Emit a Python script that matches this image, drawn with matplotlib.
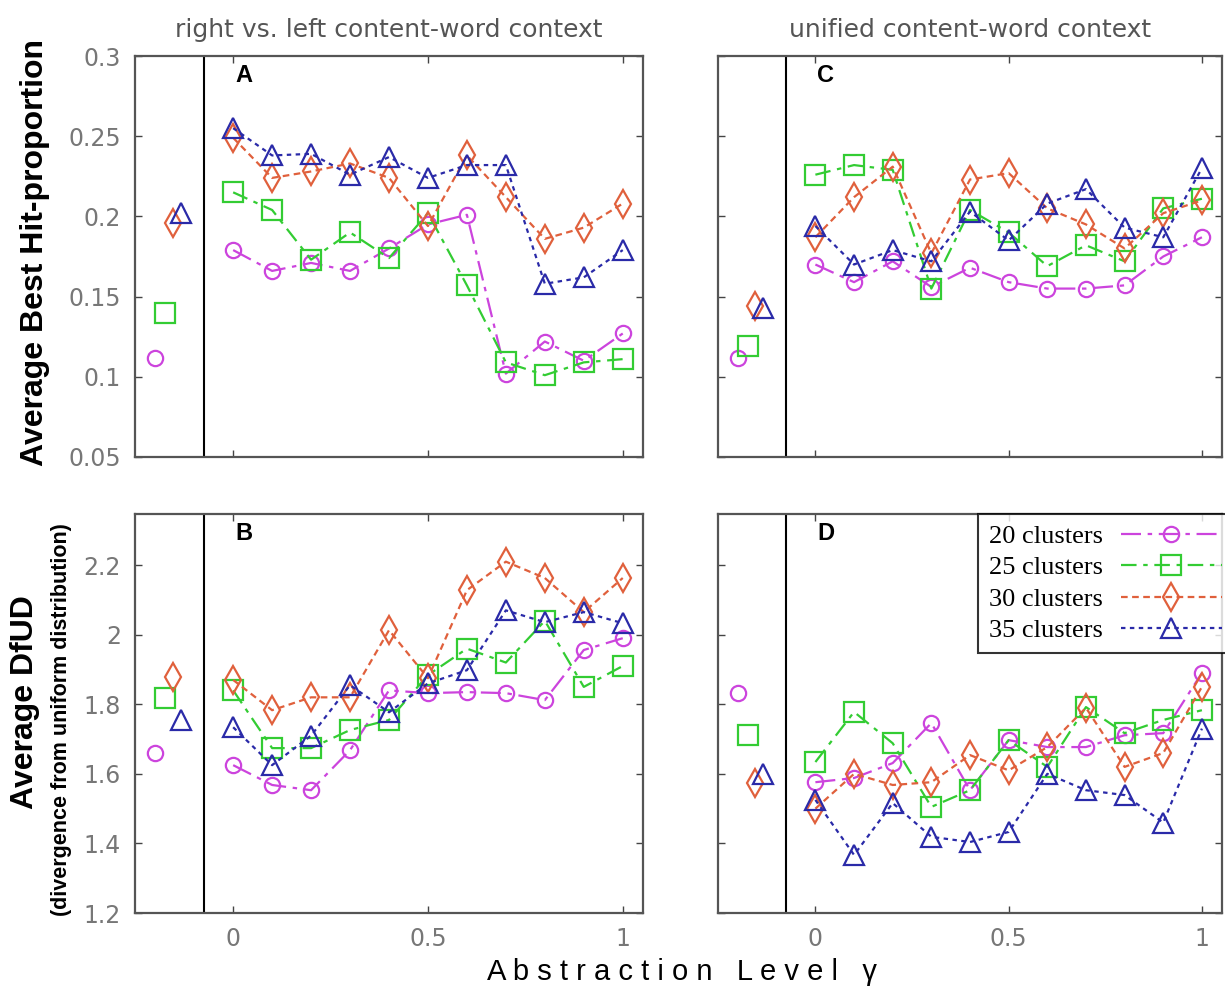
import matplotlib.pyplot as plt

gamma = [0, 0.1, 0.2, 0.3, 0.4, 0.5, 0.6, 0.7, 0.8, 0.9, 1.0]
base_x = [-0.2, -0.175, -0.155, -0.135]
clusters = ['20 clusters', '25 clusters', '30 clusters', '35 clusters']

# A: hit proportion, right vs. left context
hit_rl_20 = [0.179, 0.166, 0.171, 0.166, 0.180, 0.195, 0.201, 0.102, 0.122, 0.110, 0.127]
hit_rl_25 = [0.215, 0.204, 0.173, 0.190, 0.174, 0.202, 0.157, 0.109, 0.101, 0.109, 0.111]
hit_rl_30 = [0.249, 0.224, 0.228, 0.233, 0.224, 0.194, 0.238, 0.212, 0.186, 0.193, 0.208]
hit_rl_35 = [0.255, 0.238, 0.239, 0.226, 0.237, 0.224, 0.232, 0.232, 0.158, 0.162, 0.179]
hit_rl_base = [0.112, 0.140, 0.196, 0.202]

# C: hit proportion, unified context
hit_un_20 = [0.170, 0.159, 0.172, 0.156, 0.168, 0.159, 0.155, 0.155, 0.157, 0.175, 0.187]
hit_un_25 = [0.226, 0.232, 0.229, 0.155, 0.204, 0.190, 0.169, 0.182, 0.172, 0.205, 0.211]
hit_un_30 = [0.187, 0.212, 0.231, 0.177, 0.223, 0.227, 0.205, 0.195, 0.180, 0.202, 0.210]
hit_un_35 = [0.194, 0.170, 0.179, 0.172, 0.203, 0.185, 0.208, 0.217, 0.193, 0.187, 0.230]
hit_un_base = [0.112, 0.119, 0.144, 0.143]

# B: DfUD, right vs. left context
dfud_rl_20 = [1.625, 1.568, 1.553, 1.668, 1.840, 1.832, 1.835, 1.832, 1.812, 1.956, 1.990]
dfud_rl_25 = [1.840, 1.674, 1.674, 1.726, 1.755, 1.884, 1.960, 1.920, 2.040, 1.850, 1.910]
dfud_rl_30 = [1.870, 1.783, 1.820, 1.820, 2.013, 1.875, 2.128, 2.210, 2.163, 2.065, 2.163]
dfud_rl_35 = [1.734, 1.625, 1.710, 1.855, 1.777, 1.860, 1.898, 2.070, 2.036, 2.065, 2.033]
dfud_rl_base = [1.660, 1.817, 1.878, 1.755]

# D: DfUD, unified context
dfud_un_20 = [1.576, 1.588, 1.631, 1.746, 1.553, 1.697, 1.677, 1.677, 1.711, 1.717, 1.890]
dfud_un_25 = [1.634, 1.778, 1.688, 1.505, 1.553, 1.697, 1.620, 1.792, 1.717, 1.755, 1.783]
dfud_un_30 = [1.500, 1.600, 1.568, 1.576, 1.654, 1.610, 1.677, 1.790, 1.620, 1.660, 1.850]
dfud_un_35 = [1.525, 1.367, 1.516, 1.419, 1.404, 1.433, 1.600, 1.553, 1.539, 1.460, 1.730]
dfud_un_base = [1.832, 1.711, 1.573, 1.600]

colors = ['#cc44dd', '#33cc33', '#e0603c', '#2a2aa8']
markers = ['o', 's', 'd', '^']
msizes = [11, 14, 14, 14]
styles = [(0, (9, 3, 2, 3)), (0, (7, 3, 2, 3)), (0, (3, 2)), (0, (2, 2))]

W, H = 1225, 997
fig = plt.figure(figsize=(W / 100, H / 100), dpi=100)

def px_axes(l, t, r, b):
    return fig.add_axes([l / W, 1 - b / H, (r - l) / W, (b - t) / H])

axA = px_axes(135, 56, 643, 457)
axB = px_axes(135, 514, 643, 913)
axC = px_axes(718, 56, 1222, 457)
axD = px_axes(718, 514, 1222, 913)

panels = [
    (axA, [hit_rl_20, hit_rl_25, hit_rl_30, hit_rl_35], hit_rl_base, 'A'),
    (axB, [dfud_rl_20, dfud_rl_25, dfud_rl_30, dfud_rl_35], dfud_rl_base, 'B'),
    (axC, [hit_un_20, hit_un_25, hit_un_30, hit_un_35], hit_un_base, 'C'),
    (axD, [dfud_un_20, dfud_un_25, dfud_un_30, dfud_un_35], dfud_un_base, 'D'),
]

handles = []
for ax, series, base, letter in panels:
    for i, ys in enumerate(series):
        ln, = ax.plot(gamma, ys, color=colors[i], linestyle=styles[i], linewidth=1.6,
                      marker=markers[i], markersize=msizes[i], markerfacecolor='none',
                      markeredgewidth=1.6, label=clusters[i])
        ax.plot(base_x[i], base[i], linestyle='none', color=colors[i], marker=markers[i],
                markersize=msizes[i], markerfacecolor='none', markeredgewidth=1.6)
        if ax is axD:
            handles.append(ln)
    ax.axvline(-0.075, color='black', linewidth=1.5)
    ax.set_xlim(-0.252, 1.052)
    ax.set_xticks([0, 0.5, 1])
    ax.set_xticklabels(['0', '0.5', '1'])
    ax.text(0.005, 0.952, letter, transform=ax.get_xaxis_transform(),
            fontsize=17, fontweight='bold', family='Liberation Sans', va='center', ha='left')
    for s in ax.spines.values():
        s.set_color('#555555')
        s.set_linewidth(1.6)
    ax.tick_params(direction='in', length=5, width=1, top=True, right=True,
                   labelsize=17, labelcolor='#777777', color='#444444', pad=10)

for ax in (axA, axC):
    ax.set_ylim(0.05, 0.3)
    ax.set_yticks([0.05, 0.1, 0.15, 0.2, 0.25, 0.3])
    ax.set_yticklabels(['0.05', '0.1', '0.15', '0.2', '0.25', '0.3'])
    ax.tick_params(labelbottom=False)
for ax in (axB, axD):
    ax.set_ylim(1.2, 2.347)
    ax.set_yticks([1.2, 1.4, 1.6, 1.8, 2.0, 2.2])
    ax.set_yticklabels(['1.2', '1.4', '1.6', '1.8', '2', '2.2'])
for ax in (axC, axD):
    ax.tick_params(labelleft=False)

leg = axD.legend(handles=handles, loc='upper right', bbox_to_anchor=(1.02, 1.0),
                 borderaxespad=0, markerfirst=False, handlelength=3.8, fancybox=False,
                 prop={'family': 'Liberation Serif', 'size': 19}, labelspacing=0.3,
                 borderpad=0.4, handletextpad=0.7)
leg.get_frame().set_edgecolor('black')
leg.get_frame().set_linewidth(1.5)

axA.set_title('right vs. left content-word context', fontsize=18, color='#555555', pad=14)
axC.set_title('unified content-word context', fontsize=18, color='#555555', pad=14)

fig.text(682 / W, 1 - 972 / H, 'A b s t r a c t i o n   L e v e l   γ', ha='center', va='center',
         fontsize=21, family=['Liberation Sans', 'DejaVu Sans'])
fig.text(35 / W, 1 - 252 / H, 'Average Best Hit-proportion', rotation=90, ha='center', va='center',
         fontsize=23, fontweight='bold', family=['Liberation Sans Narrow', 'Liberation Sans'])
fig.text(25 / W, 1 - 702 / H, 'Average DfUD', rotation=90, ha='center', va='center',
         fontsize=23, fontweight='bold', family=['Liberation Sans Narrow', 'Liberation Sans'])
fig.text(62 / W, 1 - 720 / H, '(divergence from uniform distribution)', rotation=90, ha='center',
         va='center', fontsize=15.5, fontweight='bold', family=['Liberation Sans Narrow', 'Liberation Sans'])

fig.savefig('out.png', dpi=100)
